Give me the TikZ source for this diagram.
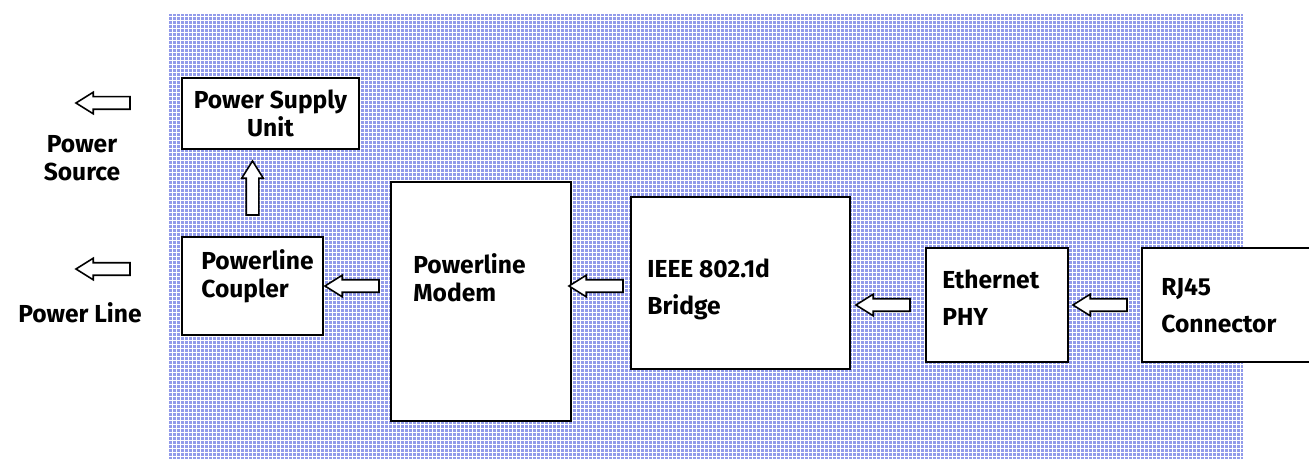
\documentclass[tikz,border=0pt]{standalone}
\usepackage{fontspec}
\setmainfont{Fira Sans}
\usepackage{xcolor}
\usetikzlibrary{calc,shapes.arrows}

\definecolor{bgblue}{RGB}{146,155,234}

\tikzset{
  blk/.style={draw, line width=1.1pt, fill=white, inner sep=0pt},
  lbl/.style={font=\bfseries\fontsize{14pt}{16pt}\selectfont, align=left, inner sep=0pt},
  lblwide/.style={lbl, font=\bfseries\fontsize{14pt}{21pt}\selectfont},
  hollow/.style={single arrow, draw, fill=white, line width=0.9pt,
    inner sep=0.11cm, minimum height=1.08cm,
    single arrow head extend=0.09cm, single arrow tip angle=64},
}

\begin{document}
\begin{tikzpicture}[x=0.02cm, y=-0.02cm]
    \useasboundingbox (0,0) rectangle (1309,459);

    % Backdrop
    \fill[bgblue] (169,14) rectangle (1243,459);
    \begin{scope}[y=0.02cm]
        \draw[white, line width=0.45pt, step=4] (169,-459) grid (1243,-14);
    \end{scope}

    % Blocks
    \node[blk, minimum width=3.54cm, minimum height=1.42cm] (psu) at (270.5,113.5) {};
    \node[blk, minimum width=2.82cm, minimum height=1.96cm] (coupler) at (252.5,286) {};
    \node[blk, minimum width=3.6cm, minimum height=4.78cm] (modem) at (481,301.5) {};
    \node[blk, minimum width=4.38cm, minimum height=3.44cm] (bridge) at (740.5,283) {};
    \node[blk, minimum width=2.84cm, minimum height=2.28cm] (phy) at (997,305) {};
    \node[blk, minimum width=3.4cm, minimum height=2.28cm] (rj) at (1227,305) {};

    % Block texts
    \node[lbl, align=center] (psutxt) at (psu) {Power Supply\\Unit};
    \node[lbl, anchor=west] (couplertxt) at (201,276) {Powerline\\Coupler};
    \node[lbl, anchor=west] (modemtxt) at (413,278) {Powerline\\Modem};
    \node[lblwide, anchor=west] (bridgetxt) at (647,289) {IEEE 802.1d\\Bridge};
    \node[lblwide, anchor=west] (phytxt) at (942,298) {Ethernet\\PHY};
    \node[lblwide, anchor=west] (rjtxt) at (1161,306) {RJ45\\Connector};

    % Block arrows
    \node[hollow, shape border rotate=90] (up) at ($(coupler.north)!0.5!(psu.south -| coupler.north)$) {};
    \node[hollow, shape border rotate=180] (toc) at ($(coupler.east)!0.5!(modem.west |- coupler.east)$) {};
    \node[hollow, shape border rotate=180] (tom) at ($(bridge.west |- 0,286)!0.5!(modem.east |- 0,286)$) {};
    \node[hollow, shape border rotate=180] (tob) at ($(phy.west)!0.5!(bridge.east |- phy.west)$) {};
    \node[hollow, shape border rotate=180] (top) at ($(rj.west)!0.5!(phy.east)$) {};

    % Outside
    \node[hollow, shape border rotate=180] (srcarrow) at (108,103) {};
    \node[hollow, shape border rotate=180] (linearrow) at (108,269) {};
    \node[lbl, align=center] (srclbl) at (82,158) {Power\\Source};
    \node[lbl] (linelbl) at (80,313) {Power Line};
\end{tikzpicture}
\end{document}
